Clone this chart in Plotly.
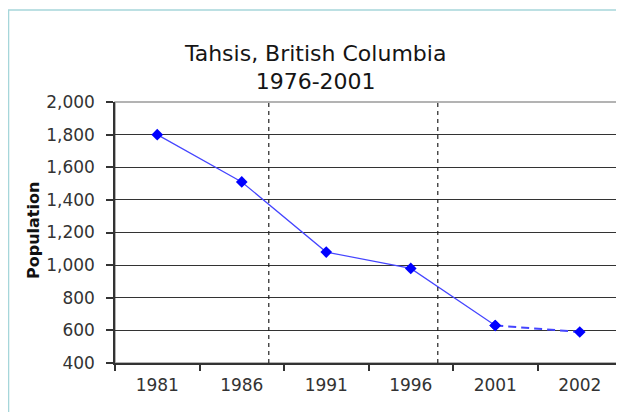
import plotly.graph_objects as go

years = ["1981", "1986", "1991", "1996", "2001", "2002"]
population = [1800, 1510, 1080, 980, 630, 590]
boundary_changes = [1.32, 3.32]  # dashed markers between census years

fig = go.Figure()

# solid line through 2001, dashed estimate to 2002
fig.add_trace(go.Scatter(
    x=years[:5], y=population[:5], mode="lines+markers",
    line=dict(color="#4545ff", width=1.2),
    marker=dict(symbol="diamond", size=9, color="#0000ff"),
))
fig.add_trace(go.Scatter(
    x=years[4:], y=population[4:], mode="lines+markers",
    line=dict(color="#4545ff", width=2, dash="8px,5px"),
    marker=dict(symbol="diamond", size=9, color="#0000ff"),
))

for xb in boundary_changes:
    fig.add_shape(type="line", xref="x", yref="y", x0=xb, x1=xb, y0=400, y1=2000,
                  line=dict(color="#222222", width=1.2, dash="4px,4px"), layer="above")

# plot frame and outer border
fig.add_shape(type="rect", xref="paper", yref="paper", x0=0, x1=1, y0=0, y1=1,
              line=dict(color="#9a9a9a", width=1.5), layer="below")
fig.add_shape(type="rect", xref="paper", yref="paper", x0=-0.21, x1=1.2, y0=-0.3, y1=1.3525,
              line=dict(color="#a6d6da", width=1.5), layer="below")

font = "DejaVu Sans, sans-serif"
fig.add_annotation(text="<b>Population</b>", xref="paper", yref="paper", x=-0.1598, y=0.5096,
                   textangle=-90, showarrow=False, xanchor="center", yanchor="middle",
                   font=dict(family=font, size=16, color="#111111"))

fig.update_layout(
    width=624, height=412,
    margin=dict(l=107, r=10, t=94, b=57),
    paper_bgcolor="white", plot_bgcolor="white",
    showlegend=False,
    font=dict(family=font, size=17, color="#333333"),
    title=dict(text="Tahsis, British Columbia<br>1976-2001", x=0.493, xanchor="center",
               y=0.872, yanchor="middle", font=dict(family=font, size=22, color="#151515")),
    xaxis=dict(type="category", range=[-0.5, 5.5], showgrid=False,
               ticks="outside", tickson="boundaries", ticklen=6, tickcolor="#333333", tickwidth=1.5,
               showline=True, linecolor="#333333", linewidth=1.5, ticklabelstandoff=6,
               tickfont=dict(size=17, color="#333333")),
    yaxis=dict(range=[400, 2000], tickvals=list(range(400, 2001, 200)),
               tickformat=",d", ticks="outside", ticklen=7, tickcolor="#333333", tickwidth=1.5,
               showgrid=True, gridcolor="#333333", gridwidth=1.3,
               showline=True, linecolor="#333333", linewidth=1.5, zeroline=False,
               ticklabelstandoff=8,
               tickfont=dict(size=17, color="#333333")),
)

fig.write_html("out.html")
